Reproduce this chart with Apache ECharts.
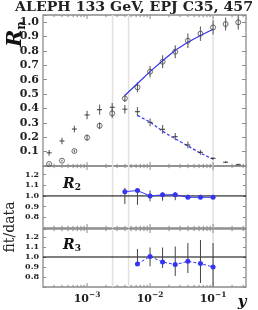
<!DOCTYPE html>
<html><head><meta charset="utf-8">
<script src="https://cdn.jsdelivr.net/npm/echarts@6/dist/echarts.min.js"></script>
<style>html,body{margin:0;padding:0;background:#fff}#c{width:258px;height:310px}</style>
</head><body><div id="c"></div>
<script>
// ---- data ----
const xVals = [0.00025, 0.0004, 0.00063, 0.001, 0.00158, 0.00251, 0.00398, 0.00631, 0.01, 0.0158, 0.0251, 0.0398, 0.0631, 0.1, 0.158, 0.251];
const r2Data = [0.014, 0.037, 0.104, 0.197, 0.28, 0.366, 0.47, 0.547, 0.656, 0.725, 0.795, 0.871, 0.92, 0.964, 0.987, 0.999];
const r2Err  = [0.005, 0.006, 0.01, 0.022, 0.023, 0.033, 0.025, 0.035, 0.04, 0.045, 0.045, 0.05, 0.05, 0.05, 0.045, 0.05];
const r3Data = [0.092, 0.174, 0.257, 0.355, 0.392, 0.408, 0.395, 0.378, 0.304, 0.255, 0.204, 0.146, 0.095, 0.053, 0.026, 0.01];
const r3Err  = [0.02, 0.023, 0.023, 0.03, 0.035, 0.03, 0.03, 0.032, 0.027, 0.03, 0.025, 0.023, 0.017, 0.008, 0.006, 0.005];

const fitR2X = [0.00398, 0.00631, 0.01, 0.0158, 0.0251, 0.0398, 0.0631, 0.1];
const fitR2  = [0.49, 0.574, 0.656, 0.732, 0.805, 0.86, 0.907, 0.951];
const fitR3X = [0.00631, 0.01, 0.0158, 0.0251, 0.0398, 0.0631, 0.1];
const fitR3  = [0.352, 0.306, 0.242, 0.189, 0.14, 0.089, 0.048];

const ratioR2   = [1.04, 1.05, 1.0, 1.01, 1.012, 0.987, 0.987, 0.987];
const ratioR2Lo = [0.924, 0.917, 0.95, 0.955, 0.96, 0.975, 0.98, 0.985];
const ratioR2Hi = [1.076, 1.06, 1.05, 1.034, 1.034, 1.012, 1.01, 1.01];
const ratioR3   = [0.93, 1.006, 0.95, 0.924, 0.957, 0.934, 0.90];
const ratioR3Lo = [0.92, 0.907, 0.89, 0.81, 0.84, 0.74, 0.70];
const ratioR3Hi = [1.08, 1.095, 1.095, 1.105, 1.14, 1.17, 1.14];

const vLines = [0.00254, 0.00456, 0.1];
const majorTicks = [0.001, 0.01, 0.1];
const minorTicks = [0.0003, 0.0004, 0.0005, 0.0006, 0.0007, 0.0008, 0.0009,
  0.002, 0.003, 0.004, 0.005, 0.006, 0.007, 0.008, 0.009,
  0.02, 0.03, 0.04, 0.05, 0.06, 0.07, 0.08, 0.09, 0.2, 0.3];

// ---- styling ----
const FONT = '"DejaVu Serif", serif';
const BLUE = '#3434f2';
const FRAME = '#8c8c8c';
const XMIN = 0.0002, XMAX = 0.333;
const yRanges = [[0, 1.05], [0.7, 1.28], [0.7, 1.28]];
const yRefs = [0.5, 1.0, 1.0];

const chart = echarts.init(document.getElementById('c'), null, {renderer: 'canvas'});

const grids = [
  {left: 43, top: 15, width: 203, height: 151},
  {left: 43, top: 166, width: 203, height: 62},
  {left: 43, top: 229, width: 203, height: 58}
].map(g => Object.assign(g, {show: true, borderColor: FRAME, borderWidth: 1.3, backgroundColor: 'transparent'}));

const xAxes = [0, 1, 2].map(gi => ({
  type: 'log', logBase: 10, gridIndex: gi, min: XMIN, max: XMAX,
  axisLine: {show: false}, axisTick: {show: false}, splitLine: {show: false},
  axisLabel: gi === 2 ? {
    show: true, margin: 4, color: '#222',
    formatter: v => {
      const e = Math.log10(v);
      if (Math.abs(e - Math.round(e)) > 1e-6) return '';
      return '{b|10}{s|\u2212' + (-Math.round(e)) + '}';
    },
    rich: {
      b: {fontFamily: FONT, fontWeight: 'bold', fontSize: 11, color: '#222', lineHeight: 14, verticalAlign: 'bottom'},
      s: {fontFamily: FONT, fontWeight: 'bold', fontSize: 7.5, color: '#222', lineHeight: 9, verticalAlign: 'top'}
    }
  } : {show: false}
}));

const yAxes = [];
[0, 1, 2].forEach(gi => {
  const big = gi === 0;
  const lab = {
    show: true, margin: 4, color: '#222', fontFamily: FONT, fontWeight: 'bold', fontSize: big ? 11 : 8,
    formatter: v => big ? ((v < 0.05 || v > 1.001) ? '' : v.toFixed(1)) : ((v < 0.75 || v > 1.25) ? '' : v.toFixed(1))
  };
  const base = {
    type: 'value', gridIndex: gi, min: yRanges[gi][0], max: yRanges[gi][1], interval: 0.1,
    axisLine: {show: false}, splitLine: {show: false},
    axisTick: {show: true, inside: true, length: big ? 4 : 3, lineStyle: {color: FRAME, width: 1}}
  };
  yAxes.push(Object.assign({}, base, {position: 'left', axisLabel: lab}));
  yAxes.push(Object.assign({}, base, {position: 'right', axisLabel: {show: false}}));
});

function errSeries(gi, xs, lo, hi, color, w) {
  return {
    type: 'custom', xAxisIndex: gi, yAxisIndex: gi * 2, silent: true, z: 3,
    data: xs.map((x, i) => [x, lo[i], hi[i]]),
    encode: {x: 0, y: [1, 2]},
    renderItem: (params, api) => {
      const p1 = api.coord([api.value(0), api.value(1)]);
      const p2 = api.coord([api.value(0), api.value(2)]);
      return {type: 'line', shape: {x1: p1[0], y1: p1[1], x2: p2[0], y2: p2[1]}, style: {stroke: color, lineWidth: w}};
    }
  };
}

function tickSeries(gi) {
  const data = majorTicks.map(v => [v, yRefs[gi], 1]).concat(minorTicks.map(v => [v, yRefs[gi], 0]));
  return {
    type: 'custom', xAxisIndex: gi, yAxisIndex: gi * 2, silent: true, z: 6,
    data: data, encode: {x: 0, y: 1},
    renderItem: (params, api) => {
      const cs = params.coordSys;
      const x = api.coord([api.value(0), api.value(1)])[0];
      const len = api.value(2) ? 4 : 2.2;
      const st = {stroke: FRAME, lineWidth: 1};
      return {type: 'group', children: [
        {type: 'line', shape: {x1: x, y1: cs.y + cs.height, x2: x, y2: cs.y + cs.height - len}, style: st},
        {type: 'line', shape: {x1: x, y1: cs.y, x2: x, y2: cs.y + len}, style: st}
      ]};
    }
  };
}

function vLineSeries(gi) {
  return {
    type: 'custom', xAxisIndex: gi, yAxisIndex: gi * 2, silent: true, z: 1,
    data: vLines.map(v => [v, yRefs[gi]]), encode: {x: 0, y: 1},
    renderItem: (params, api) => {
      const cs = params.coordSys;
      const x = api.coord([api.value(0), api.value(1)])[0];
      return {type: 'line', shape: {x1: x, y1: cs.y, x2: x, y2: cs.y + cs.height},
              style: {stroke: '#e0e0e0', lineWidth: 1.5}};
    }
  };
}

function oneLine(gi) {
  return {
    type: 'line', xAxisIndex: gi, yAxisIndex: gi * 2, silent: true, z: 2,
    data: [[XMIN, 1.0], [XMAX, 1.0]], symbol: 'none', lineStyle: {color: '#000', width: 1}
  };
}

const zip = (a, b) => a.map((x, i) => [x, b[i]]);
const r2X = fitR2X, r3X = fitR3X;

const series = [
  vLineSeries(0), vLineSeries(1), vLineSeries(2),
  oneLine(1), oneLine(2),
  // top panel
  errSeries(0, xVals, r2Data.map((v, i) => v - r2Err[i]), r2Data.map((v, i) => v + r2Err[i]), '#6a6a6a', 1.2),
  errSeries(0, xVals, r3Data.map((v, i) => v - r3Err[i]), r3Data.map((v, i) => v + r3Err[i]), '#6a6a6a', 1.2),
  {type: 'line', xAxisIndex: 0, yAxisIndex: 0, data: zip(fitR2X, fitR2), showSymbol: false, symbol: 'none', z: 4,
   lineStyle: {color: BLUE, width: 1.2}},
  {type: 'line', xAxisIndex: 0, yAxisIndex: 0, data: zip(fitR3X, fitR3), showSymbol: false, symbol: 'none', z: 4,
   lineStyle: {color: BLUE, width: 1.2, type: [3, 2]}},
  {type: 'scatter', xAxisIndex: 0, yAxisIndex: 0, data: zip(xVals, r2Data), symbol: 'circle', symbolSize: 5, z: 5,
   itemStyle: {color: 'rgba(255,255,255,0)', borderColor: '#4a4a4a', borderWidth: 1}},
  {type: 'scatter', xAxisIndex: 0, yAxisIndex: 0, data: zip(xVals, r3Data), symbol: 'rect', symbolSize: [5, 1.2], z: 5,
   itemStyle: {color: '#333'}},
  // R2 ratio
  errSeries(1, r2X, ratioR2Lo, ratioR2Hi, '#444', 1),
  {type: 'line', xAxisIndex: 1, yAxisIndex: 2, data: zip(r2X, ratioR2), symbol: 'circle', symbolSize: 5, showSymbol: true, z: 5,
   itemStyle: {color: BLUE}, lineStyle: {color: BLUE, width: 1}},
  // R3 ratio
  errSeries(2, r3X, ratioR3Lo, ratioR3Hi, '#444', 1),
  {type: 'line', xAxisIndex: 2, yAxisIndex: 4, data: zip(r3X, ratioR3), symbol: 'circle', symbolSize: 5, showSymbol: true, z: 5,
   itemStyle: {color: BLUE}, lineStyle: {color: BLUE, width: 1, type: [3, 2]}},
  tickSeries(0), tickSeries(1), tickSeries(2)
];

const graphic = [
  {type: 'text', x: 134, y: 7.5, scaleX: 1.18, silent: true,
   style: {text: 'ALEPH 133 GeV, EPJ C35, 457', fontFamily: FONT, fontWeight: 'bold', fontSize: 12, fill: '#222',
           align: 'center', verticalAlign: 'middle', textAlign: 'center', textVerticalAlign: 'middle'}},
  {type: 'text', x: 16, y: 34, rotation: Math.PI / 2, silent: true,
   style: {text: '{r|R}{n|n}', align: 'center', verticalAlign: 'middle', textAlign: 'center', textVerticalAlign: 'middle',
     rich: {r: {fontFamily: FONT, fontStyle: 'italic', fontWeight: 'bold', fontSize: 21, fill: '#111', lineHeight: 24},
            n: {fontFamily: FONT, fontWeight: 'bold', fontSize: 12, fill: '#111', lineHeight: 24, verticalAlign: 'bottom'}}}},
  {type: 'text', x: 10, y: 227, rotation: Math.PI / 2, silent: true,
   style: {text: 'fit/data', fontFamily: FONT, fontSize: 14, fill: '#222', align: 'center', verticalAlign: 'middle',
           textAlign: 'center', textVerticalAlign: 'middle'}},
  {type: 'text', x: 63, y: 184, silent: true,
   style: {text: '{r|R}{n|2}', align: 'left', verticalAlign: 'middle', textAlign: 'left', textVerticalAlign: 'middle',
     rich: {r: {fontFamily: FONT, fontStyle: 'italic', fontWeight: 'bold', fontSize: 14, fill: '#111', lineHeight: 16},
            n: {fontFamily: FONT, fontWeight: 'bold', fontSize: 9, fill: '#111', lineHeight: 16, verticalAlign: 'bottom'}}}},
  {type: 'text', x: 63, y: 245, silent: true,
   style: {text: '{r|R}{n|3}', align: 'left', verticalAlign: 'middle', textAlign: 'left', textVerticalAlign: 'middle',
     rich: {r: {fontFamily: FONT, fontStyle: 'italic', fontWeight: 'bold', fontSize: 14, fill: '#111', lineHeight: 16},
            n: {fontFamily: FONT, fontWeight: 'bold', fontSize: 9, fill: '#111', lineHeight: 16, verticalAlign: 'bottom'}}}},
  {type: 'text', x: 242, y: 302, silent: true,
   style: {text: 'y', fontFamily: FONT, fontStyle: 'italic', fontWeight: 'bold', fontSize: 15, fill: '#111',
           align: 'center', verticalAlign: 'middle', textAlign: 'center', textVerticalAlign: 'middle'}}
];

chart.setOption({
  animation: false,
  backgroundColor: '#fff',
  grid: grids,
  xAxis: xAxes,
  yAxis: yAxes,
  series: series,
  graphic: graphic
});
</script>
</body></html>
